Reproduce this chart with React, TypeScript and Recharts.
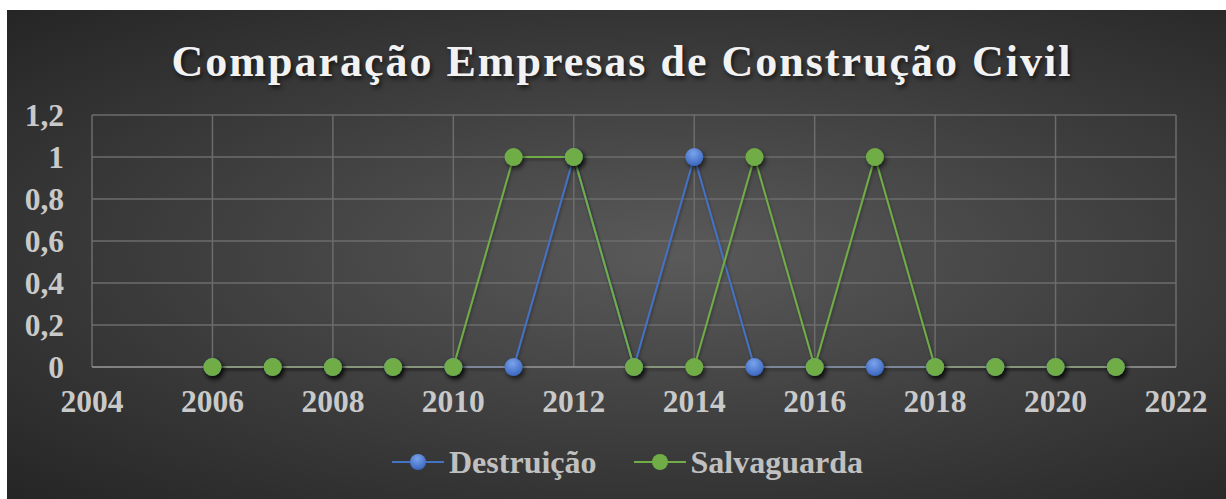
import { CartesianGrid, Line, LineChart, XAxis, YAxis } from 'recharts';

const years = [2006, 2007, 2008, 2009, 2010, 2011, 2012, 2013, 2014, 2015, 2016, 2017, 2018, 2019, 2020, 2021];
const destruicao = [0, 0, 0, 0, 0, 0, 1, 0, 1, 0, 0, 0, 0, 0, 0, 0];
const salvaguarda = [0, 0, 0, 0, 0, 1, 1, 0, 0, 1, 0, 1, 0, 0, 0, 0];
const xTicks = [2004, 2006, 2008, 2010, 2012, 2014, 2016, 2018, 2020, 2022];
const yTicks = [0, 0.2, 0.4, 0.6, 0.8, 1, 1.2];

const chartData = years.map((year, i) => ({
	year,
	destruicao: destruicao[i],
	salvaguarda: salvaguarda[i],
}));

const FONT = '"Liberation Serif", "Times New Roman", serif';
const BLUE = '#4472C4';
const GREEN = '#70AD47';

const makeDot = (fill: string) => (props: any) => {
	const { cx, cy, index } = props;
	if (cx == null || cy == null) return null;
	return <circle key={index} cx={cx} cy={cy} r={9} fill={fill} filter="url(#dotShadow)" />;
};

const formatY = (v: number) => String(v).replace('.', ',');

export default function App() {
	return (
		<div
			style={{
				position: 'absolute',
				left: 7,
				top: 10,
				width: 1219,
				height: 489,
				background: 'radial-gradient(ellipse farthest-corner at 55% 50%, #5a5a5a 0%, #3c3c3c 55%, #252525 100%)',
				fontFamily: FONT,
				overflow: 'hidden',
			}}
		>
			<div
				style={{
					position: 'absolute',
					top: 24,
					left: 0,
					width: 1230,
					textAlign: 'center',
					fontSize: 44,
					fontWeight: 'bold',
					letterSpacing: 2,
					color: '#f2f2f2',
					textShadow: '2px 3px 4px rgba(0,0,0,0.6)',
					lineHeight: '56px',
				}}
			>
				Comparação Empresas de Construção Civil
			</div>

			<LineChart width={1219} height={489} data={chartData} margin={{ top: 105, right: 50, left: 0, bottom: 92 }}>
				<defs>
					<filter id="dotShadow" x="-50%" y="-50%" width="200%" height="200%">
						<feDropShadow dx="2" dy="3" stdDeviation="2.5" floodColor="#000" floodOpacity="0.6" />
					</filter>
					<filter id="lineShadow" x="-5%" y="-20%" width="110%" height="140%">
						<feDropShadow dx="1" dy="2" stdDeviation="1.5" floodColor="#000" floodOpacity="0.35" />
					</filter>
					<radialGradient id="blueDot" cx="45%" cy="30%" r="70%">
						<stop offset="0%" stopColor="#7aa3ec" />
						<stop offset="100%" stopColor="#3a66bf" />
					</radialGradient>
				</defs>
				<CartesianGrid stroke="#6c6c6c" strokeWidth={1.5} />
				<XAxis
					dataKey="year"
					type="number"
					domain={[2004, 2022]}
					ticks={xTicks}
					interval={0}
					tickLine={false}
					tickSize={0}
					tickMargin={23}
					height={40}
					axisLine={{ stroke: '#8e8e8e', strokeWidth: 1.5 }}
					tick={{ fill: '#c9c9c9', fontSize: 31.5, fontWeight: 'bold', fontFamily: FONT }}
				/>
				<YAxis
					type="number"
					domain={[0, 1.2]}
					ticks={yTicks}
					interval={0}
					width={85}
					tickLine={false}
					tickSize={0}
					tickMargin={28}
					axisLine={false}
					tickFormatter={formatY}
					tick={{ fill: '#c9c9c9', fontSize: 31.5, fontWeight: 'bold', fontFamily: FONT }}
				/>
				<Line
					type="linear"
					dataKey="destruicao"
					stroke={BLUE}
					strokeWidth={2}
					style={{ filter: 'url(#lineShadow)' }}
					dot={makeDot('url(#blueDot)')}
					activeDot={false}
					isAnimationActive={false}
				/>
				<Line
					type="linear"
					dataKey="salvaguarda"
					stroke={GREEN}
					strokeWidth={2}
					style={{ filter: 'url(#lineShadow)' }}
					dot={makeDot(GREEN)}
					activeDot={false}
					isAnimationActive={false}
				/>
			</LineChart>

			<div
				style={{
					position: 'absolute',
					top: 434,
					left: 385,
					display: 'flex',
					alignItems: 'center',
					fontSize: 32,
					fontWeight: 'bold',
					color: '#c0c0c0',
					lineHeight: '36px',
				}}
			>
				<svg width={52} height={24} style={{ marginRight: 5 }}>
					<line x1={0} y1={12} x2={52} y2={12} stroke={BLUE} strokeWidth={2} />
					<circle cx={26} cy={12} r={8} fill="url(#blueDot)" />
				</svg>
				<span>Destruição</span>
				<svg width={52} height={24} style={{ marginLeft: 37, marginRight: 5 }}>
					<line x1={0} y1={12} x2={52} y2={12} stroke={GREEN} strokeWidth={2} />
					<circle cx={26} cy={12} r={8} fill={GREEN} />
				</svg>
				<span>Salvaguarda</span>
			</div>
		</div>
	);
}
